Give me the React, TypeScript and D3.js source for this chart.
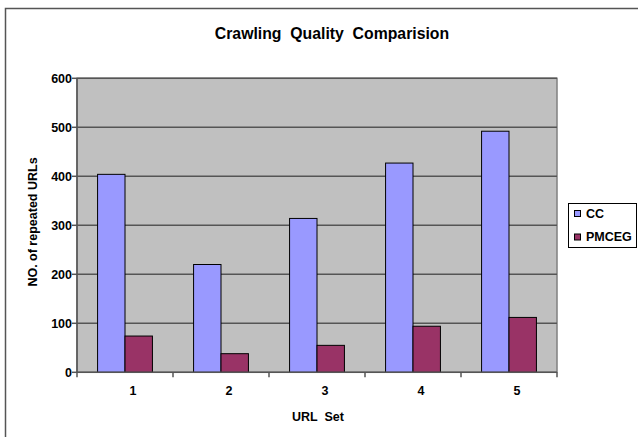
import React from "react";
import * as d3 from "d3";

const categories = ["1", "2", "3", "4", "5"];
const seriesNames = ["CC", "PMCEG"];
const ccValues = [404, 220, 314, 427, 492];
const pmcegValues = [74, 38, 55, 94, 112];
const yTicks = [0, 100, 200, 300, 400, 500, 600];
const colors = ["#9999FF", "#993366"];

const W = 638;
const H = 437;
const FONT = "Arial, 'Liberation Sans', sans-serif";
const FS = 12.5;

export default function App() {
  const left = 77, right = 557, top = 78.3, bottom = 372.3;
  const x = d3.scaleBand<string>().domain(categories).range([left, right]).paddingInner(0).paddingOuter(0);
  const bw = x.bandwidth() / 3.5;
  const y = d3.scaleLinear().domain([0, 600]).range([bottom, top]);
  const series = [ccValues, pmcegValues];

  return (
    <svg width={W} height={H} style={{ position: "absolute", left: 0, top: 0 }}>
      <rect x={0} y={0} width={W} height={H} fill="#fff" />
      <rect x={5.5} y={8.5} width={W + 30} height={H + 10} fill="none" stroke="#555" strokeWidth={1.5} />
      <text x={332} y={39} textAnchor="middle" fontFamily={FONT} fontWeight="bold" fontSize={15.8} style={{ whiteSpace: "pre" }}>
        {"Crawling  Quality  Comparision"}
      </text>
      <rect x={left} y={top} width={right - left} height={bottom - top} fill="#C0C0C0" stroke="#808080" strokeWidth={1.5} />
      {yTicks.map((t) => (
        <g key={t}>
          {t > 0 && <line x1={left} x2={right} y1={y(t)} y2={y(t)} stroke="#555" strokeWidth={1.5} />}
          <line x1={left - 5} x2={left} y1={y(t)} y2={y(t)} stroke="#555" strokeWidth={1.5} />
          <text x={left - 5} y={y(t) + 4.5} textAnchor="end" fontFamily={FONT} fontWeight="bold" fontSize={FS}>
            {t}
          </text>
        </g>
      ))}
      {categories.map((c, i) =>
        series.map((vals, s) => {
          const bx = (x(c) as number) + x.bandwidth() / 2 - bw + s * bw;
          return (
            <rect key={c + s} x={bx} y={y(vals[i])} width={bw} height={y(0) - y(vals[i])} fill={colors[s]} stroke="#000" strokeWidth={1} />
          );
        })
      )}
      <line x1={left} x2={left} y1={top} y2={bottom} stroke="#555" strokeWidth={1.5} />
      <line x1={left} x2={right} y1={bottom} y2={bottom} stroke="#555" strokeWidth={1.5} />
      {[...categories.map((c) => x(c) as number), right].map((tx, i) => (
        <line key={i} x1={tx} x2={tx} y1={bottom} y2={bottom + 5} stroke="#555" strokeWidth={1.5} />
      ))}
      {categories.map((c) => (
        <text key={c} x={(x(c) as number) + x.bandwidth() / 2 + 8} y={394.5} textAnchor="middle" fontFamily={FONT} fontWeight="bold" fontSize={FS}>
          {c}
        </text>
      ))}
      <text x={318} y={421} textAnchor="middle" fontFamily={FONT} fontWeight="bold" fontSize={FS} style={{ whiteSpace: "pre" }}>
        {"URL  Set"}
      </text>
      <text transform={`translate(36.5,222) rotate(-90)`} textAnchor="middle" fontFamily={FONT} fontWeight="bold" fontSize={FS}>
        NO. of repeated URLs
      </text>
      <rect x={568.5} y={203.5} width={68} height={44} fill="#fff" stroke="#000" strokeWidth={1} />
      {seriesNames.map((n, i) => (
        <g key={n}>
          <rect x={574.5} y={210.5 + i * 23.5} width={6} height={6} fill={colors[i]} stroke="#000" strokeWidth={1} />
          <text x={586} y={217.7 + i * 23} fontFamily={FONT} fontWeight="bold" fontSize={FS}>
            {n}
          </text>
        </g>
      ))}
    </svg>
  );
}
